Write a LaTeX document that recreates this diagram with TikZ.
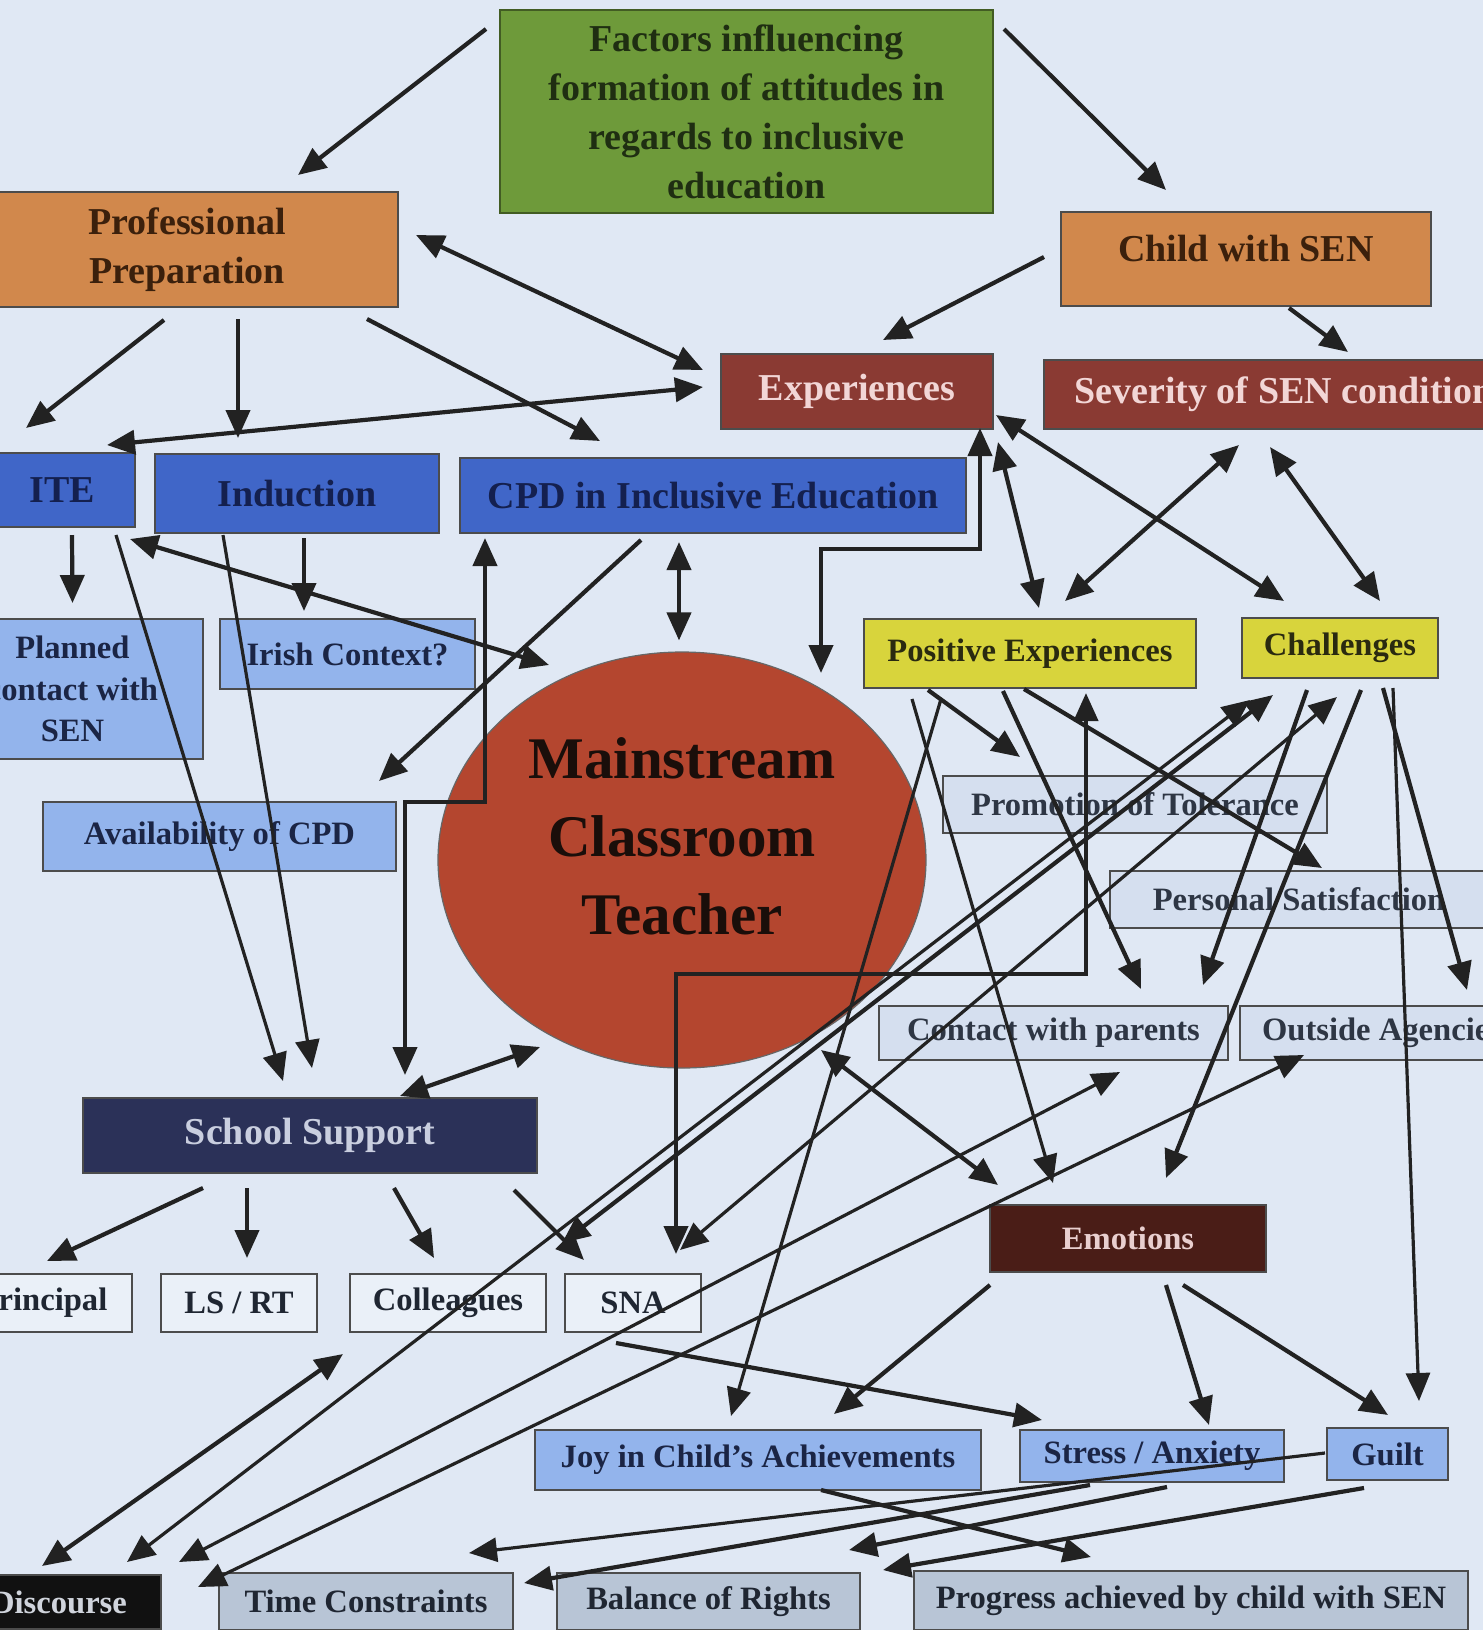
\documentclass[tikz,border=0pt]{standalone}
\usepackage{fontspec}
\setmainfont{Liberation Serif}
\usetikzlibrary{arrows.meta,shapes.geometric}

\definecolor{bgblue}{HTML}{E0E8F4}
\definecolor{factgreen}{HTML}{6E9A3A}
\definecolor{factink}{HTML}{1F2E12}
\definecolor{profor}{HTML}{D1884C}
\definecolor{profink}{HTML}{3B200C}
\definecolor{expred}{HTML}{8A3A33}
\definecolor{expink}{HTML}{F2D6D6}
\definecolor{iteblue}{HTML}{4066C8}
\definecolor{iteink}{HTML}{14204F}
\definecolor{ltblue}{HTML}{93B4EC}
\definecolor{ltink}{HTML}{1B2545}
\definecolor{mctred}{HTML}{B4462F}
\definecolor{mctink}{HTML}{1A0E0A}
\definecolor{posyel}{HTML}{D8D43C}
\definecolor{posink}{HTML}{2A2A10}
\definecolor{pale}{HTML}{D5DFEF}
\definecolor{paleink}{HTML}{2E3644}
\definecolor{navy}{HTML}{2B3158}
\definecolor{navyink}{HTML}{C9CEDF}
\definecolor{whbox}{HTML}{EAF0F8}
\definecolor{emot}{HTML}{4A1D17}
\definecolor{emotink}{HTML}{E9CFCF}
\definecolor{disc}{HTML}{111111}
\definecolor{discink}{HTML}{D0D4DC}
\definecolor{grayblue}{HTML}{B8C5D6}
\definecolor{grayink}{HTML}{1F2632}
\definecolor{linkink}{HTML}{222222}

\newcommand\chartbig{\fontsize{19}{24.5}\selectfont\bfseries}
\newcommand\chartsmall{\fontsize{16.3}{20.8}\selectfont\bfseries}
\newcommand\charthuge{\fontsize{29.5}{39}\selectfont\bfseries}

\tikzset{every picture/.style={line width=0.75pt}}

\begin{document}
\begin{tikzpicture}[x=0.5pt, y=-0.5pt,
    span/.style args={#1,#2,#3,#4}{at={({(#1+#3)/2},{(#2+#4)/2})},
                minimum width={(#3-(#1))*0.5pt}, minimum height={(#4-(#2))*0.5pt}},
    box/.style={draw=black!70, line width=0.6pt, inner sep=0pt, outer sep=0pt,
                align=center, font=\chartsmall},
    bigbox/.style={box, font=\chartbig},
    arr/.style={draw=linkink, line width=2.1pt, -{Triangle[length=14pt,width=12pt]}},
    both/.style={draw=linkink, line width=2.1pt,
                 {Triangle[length=14pt,width=12pt]}-{Triangle[length=14pt,width=12pt]}},
    slim/.style={line width=1.6pt}]

  % page
  \useasboundingbox (0,0) rectangle (1483,1630);
  \fill[bgblue] (0,0) rectangle (1483,1630);

  % top level
  \node[bigbox, fill=factgreen, draw=factgreen!60!black, text=factink,
        span={500,10,993,213}] (factors)
        {Factors influencing\\formation of attitudes in\\regards to inclusive\\education};
  \node[bigbox, fill=profor, text=profink, span={-24,192,398,307}] (profprep)
        {Professional\\Preparation};
  \node[bigbox, fill=profor, text=profink, span={1061,212,1431,306}] (child)
        {\raisebox{11pt}{Child with SEN}};
  \node[bigbox, fill=expred, text=expink, span={721,354,993,429}] (exper) {Experiences};
  \node[bigbox, fill=expred, text=expink, span={1044,360,1524,429}] (severity)
        {Severity of SEN condition};

  % professional preparation
  \node[bigbox, fill=iteblue, text=iteink, span={-11,453,135,527}] (ite) {ITE};
  \node[bigbox, fill=iteblue, text=iteink, span={155,454,439,533}] (induction) {Induction};
  \node[bigbox, fill=iteblue, text=iteink, span={460,458,966,533}] (cpd)
        {CPD in Inclusive Education};
  \node[box, fill=ltblue, text=ltink, span={-58,619,203,759}] (planned)
        {Planned\\contact with\\SEN};
  \node[box, fill=ltblue, text=ltink, span={220,619,475,689}] (irish) {Irish Context?};
  \node[box, fill=ltblue, text=ltink, span={43,802,396,871}] (avail) {Availability of CPD};

  % teacher
  \node[draw=black!60, line width=0.6pt, fill=mctred, ellipse, inner sep=0pt,
        minimum width=244pt, minimum height=208pt] (mct) at (682,860) {};
  \node[font=\charthuge, text=mctink, align=center] (mcttext) at (682,836)
        {Mainstream\\Classroom\\Teacher};

  % experiences
  \node[box, fill=posyel, text=posink, span={864,619,1196,688}] (posexp) {Positive Experiences};
  \node[box, fill=posyel, text=posink, span={1242,618,1438,678}] (chall) {Challenges};
  \node[box, fill=pale, text=paleink, span={943,776,1327,833}] (promo) {Promotion of Tolerance};
  \node[box, fill=pale, text=paleink, span={1110,871,1488,928}] (persat) {Personal Satisfaction};
  \node[box, fill=pale, text=paleink, span={879,1006,1228,1060}] (cwp) {Contact with parents};
  \node[box, fill=pale, text=paleink, span={1240,1006,1524,1060}] (outside) {Outside Agencies};

  % school support
  \node[bigbox, fill=navy, text=navyink, span={83,1098,537,1173}] (schsup) {School Support};
  \node[box, fill=whbox, text=grayink, span={-46,1274,132,1332}] (principal) {Principal};
  \node[box, fill=whbox, text=grayink, span={161,1274,317,1332}] (lsrt) {LS / RT};
  \node[box, fill=whbox, text=grayink, span={350,1274,546,1332}] (coll) {Colleagues};
  \node[box, fill=whbox, text=grayink, span={565,1274,701,1332}] (sna) {SNA};

  % emotions
  \node[box, fill=emot, text=emotink, span={990,1205,1266,1272}] (emotions) {Emotions};
  \node[box, fill=ltblue, text=ltink, span={535,1430,981,1490}] (joy) {Joy in Child’s Achievements};
  \node[box, fill=ltblue, text=ltink, span={1020,1430,1284,1482}] (stress) {Stress / Anxiety};
  \node[box, fill=ltblue, text=ltink, span={1327,1428,1448,1480}] (guilt) {Guilt};

  % bottom row
  \node[box, fill=disc, text=discink, span={-43,1575,161,1629}] (discourse) {Discourse};
  \node[box, fill=grayblue, text=grayink, span={219,1573,513,1630}] (time) {Time Constraints};
  \node[box, fill=grayblue, text=grayink, span={557,1573,860,1630}] (balance) {Balance of Rights};
  \node[box, fill=grayblue, text=grayink, span={914,1571,1468,1630}] (progress)
        {Progress achieved by child with SEN};

  % links from the top
  \draw[arr] ([shift={(-14,19)}]factors.north west) -- ([shift={(-100,-17)}]profprep.north east);
  \draw[arr] ([shift={(11,19)}]factors.north east) -- ([shift={(105,-22)}]child.north west);
  \draw[both] ([shift={(18,43)}]profprep.north east) -- ([shift={(-18,16)}]exper.north west);
  \draw[arr] ([shift={(-17,-2)}]child.west) -- ([shift={(162,-14)}]exper.north west);
  \draw[arr] ([shift={(43,2)}]child.south) -- ([shift={(64,-8)}]severity.north);

  % professional preparation
  \draw[arr] ([shift={(-23,13)}]profprep.south) -- ([shift={(-36,-25)}]ite.north);
  \draw[arr] ([shift={(51,12)}]profprep.south) -- ([shift={(-59,-16)}]induction.north);
  \draw[arr] ([shift={(-31,12)}]profprep.south east) -- ([shift={(140,-17)}]cpd.north west);
  \draw[both] ([shift={(-28,-8)}]ite.north east) -- ([shift={(-18,-4.5)}]exper.west);
  \draw[arr] ([shift={(10,8)}]ite.south) -- ([shift={(0,-16)}]planned.north);
  \draw[arr,slim] ([shift={(-19,8)}]ite.south east) -- ([shift={(200,-17)}]schsup.north west);
  \draw[arr,slim] ([shift={(68,2)}]induction.south west) -- ([shift={(229,-30)}]schsup.north west);
  \draw[arr] ([shift={(7,5)}]induction.south) -- ([shift={(84,-8)}]irish.north west);
  \draw[both] ([shift={(-5,12)}]ite.south east) -- ([shift={(-133,-195)}]mct.center);
  \draw[arr] ([shift={(-72,7)}]cpd.south) -- ([shift={(-17,-21)}]avail.north east);
  \draw[both] ([shift={(-34,9)}]cpd.south) -- ([shift={(-3,-11)}]mct.north);
  \draw[both] ([shift={(-13,-1)}]exper.south east) -- ++(0,121) -| ([shift={(139,-187)}]mct.center);
  \draw[both] ([shift={(25,5)}]cpd.south west) -- ++(0,264) -| ([shift={(322,-23)}]schsup.north west);
  \draw[both] ([shift={(90,-2)}]schsup.north) -- ([shift={(-142,187)}]mct.center);

  % experiences
  \draw[both] ([shift={(5,13)}]exper.south east) -- ([shift={(9,-11)}]posexp.north);
  \draw[both] ([shift={(3,23.5)}]exper.east) -- ([shift={(42,-17)}]chall.north west);
  \draw[both] ([shift={(195,16)}]severity.south west) -- ([shift={(35,-18)}]posexp.north);
  \draw[both] ([shift={(-14,18)}]severity.south) -- ([shift={(40,-17)}]chall.north);
  \draw[arr] ([shift={(64,2)}]posexp.south west) -- ([shift={(77,-19)}]promo.north west);
  \draw[arr] ([shift={(-27,3)}]posexp.south) -- ([shift={(-87,-17)}]cwp.north east);
  \draw[arr] ([shift={(-6,1)}]posexp.south) -- ([shift={(212,-3)}]persat.north west);
  \draw[arr,slim] ([shift={(48,11)}]posexp.south west) -- ([shift={(63,-22)}]emotions.north west);
  \draw[arr,slim] ([shift={(77,11)}]posexp.south west) -- ([shift={(196,-14)}]joy.north west);
  \draw[both] ([shift={(-110,5)}]posexp.south east) -- ++(0,281) -| ([shift={(111,-20)}]sna.north west);
  \draw[arr] ([shift={(65,12)}]chall.south west) -- ([shift={(-25,-21)}]cwp.north east);
  \draw[arr] ([shift={(21,12)}]chall.south) -- ([shift={(-100,-27)}]emotions.north east);
  \draw[arr] ([shift={(43,10)}]chall.south) -- ([shift={(227,-16)}]outside.north west);
  \draw[arr,slim] ([shift={(53,10)}]chall.south) -- ([shift={(92,-27)}]guilt.north west);
  \draw[both,slim] ([shift={(170,-13)}]discourse.north west) -- ([shift={(8,22)}]chall.south west);
  \draw[both] ([shift={(16,-31)}]coll.north east) -- ([shift={(31,17)}]chall.south west);
  \draw[both,slim] ([shift={(115,-24)}]sna.north west) -- ([shift={(-3,19)}]chall.south);
  \draw[both] ([shift={(85,-9)}]discourse.north west) -- ([shift={(-7,22)}]coll.south west);
  \draw[both,slim] ([shift={(18,-13)}]discourse.north east) -- ([shift={(66.5,12)}]cwp.south);
  \draw[both,slim] ([shift={(37,12)}]discourse.north east) -- ([shift={(64,-5)}]outside.south west);
  \draw[both] ([shift={(139,190)}]mct.center) -- ([shift={(8,-20)}]emotions.north west);

  % school support
  \draw[arr] ([shift={(120,15)}]schsup.south west) -- ([shift={(-85,-13)}]principal.north east);
  \draw[arr] ([shift={(164,15)}]schsup.south west) -- ([shift={(8,-16)}]lsrt.north);
  \draw[arr] ([shift={(84,15)}]schsup.south) -- ([shift={(-14,-16)}]coll.north);
  \draw[arr] ([shift={(-23,17)}]schsup.south east) -- ([shift={(19,-14)}]sna.north west);
  \draw[arr] ([shift={(51,11)}]sna.south west) -- ([shift={(22,-10)}]stress.north west);

  % emotions
  \draw[arr] ([shift={(0,13)}]emotions.south west) -- ([shift={(-147,-16)}]joy.north east);
  \draw[arr] ([shift={(38,13)}]emotions.south) -- ([shift={(-75,-5)}]stress.north east);
  \draw[arr] ([shift={(55,13)}]emotions.south) -- ([shift={(0.5,-13)}]guilt.north);

  % bottom row
  \draw[arr] ([shift={(63,0)}]joy.south) -- ([shift={(177,-14)}]progress.north west);
  \draw[arr,slim] ([shift={(-2,-1)}]guilt.west) -- ([shift={(-44,-20)}]time.north east);
  \draw[arr] ([shift={(70,3)}]stress.south west) -- ([shift={(11,10)}]time.north east);
  \draw[arr] ([shift={(15,5)}]stress.south) -- ([shift={(-11,-23)}]balance.north east);
  \draw[arr] ([shift={(-23.5,8)}]guilt.south) -- ([shift={(23,-3)}]balance.north east);
\end{tikzpicture}
\end{document}
